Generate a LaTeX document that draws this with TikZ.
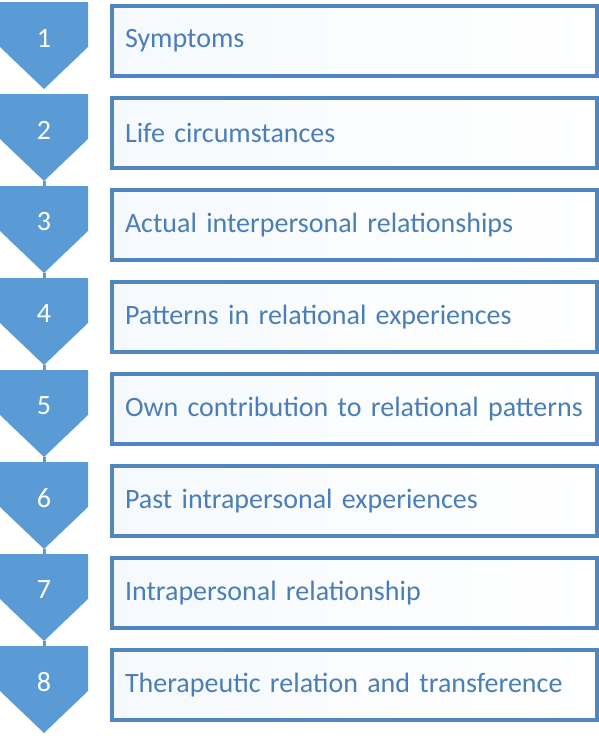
\documentclass[tikz,border=0pt]{standalone}
\usepackage{fontspec}
\setmainfont{Carlito}
\definecolor{chevblue}{HTML}{5B9BD5}
\definecolor{boxblue}{HTML}{4F86BF}
\definecolor{textblue}{HTML}{4A7EB8}

\tikzset{
  stepbox/.style={draw=boxblue, line width=4pt, left color=chevblue!6, right color=white,
    minimum width=485pt, minimum height=70pt, text width=459pt, inner xsep=13pt,
    align=left, anchor=north west, text=textblue, font=\fontsize{28}{32}\selectfont},
  stepnum/.style={text=white, font=\fontsize{28}{32}\selectfont, inner sep=0pt},
  chevron/.style={fill=chevblue}
}

\begin{document}
\begin{tikzpicture}[x=1pt, y=-1pt]
      \useasboundingbox (0,0) rectangle (598,736);
      \foreach \i/\txt in {1/Symptoms, 2/Life circumstances, 3/Actual interpersonal relationships,
          4/Patterns in relational experiences, 5/Own contribution to relational patterns,
          6/Past intrapersonal experiences, 7/Intrapersonal relationship,
          8/Therapeutic relation and transference} {
        \pgfmathsetmacro{\t}{2+92*(\i-1)}
        \fill[chevron] (0,\t) -- (88,\t) -- (88,\t+45) -- (44,\t+87) -- (0,\t+45) -- cycle;
        \coordinate (top\i) at (44,\t);
        \coordinate (tip\i) at (44,\t+87);
        \node[stepnum] (num\i) at (44,\t+36) {\i};
        \node[stepbox] (box\i) at (110,\t+2) {\txt};
      }
      % necks between the lower chevrons
      \foreach \i [evaluate=\i as \j using int(\i+1)] in {2,...,7}
        \draw[chevblue, line width=3pt] (tip\i) -- (top\j);
    \end{tikzpicture}
\end{document}
